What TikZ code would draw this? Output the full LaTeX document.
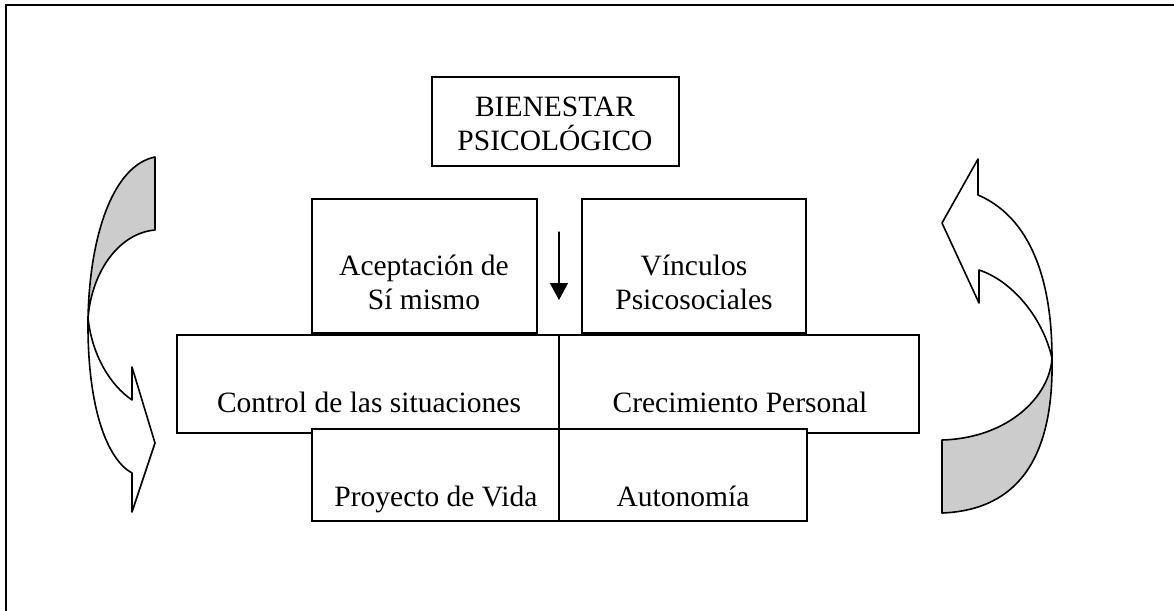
\documentclass[tikz,border=0pt]{standalone}
\usepackage{fontspec}
\setmainfont{Liberation Serif}
\usetikzlibrary{arrows.meta,fit}
\tikzset{
  caja/.style={draw, line width=0.75pt, inner sep=0pt},
  texto/.style={anchor=base, align=center, inner sep=0pt, font=\fontsize{14.75}{17}\selectfont},
  cinta/.style={draw, line width=0.8pt, line join=round}
}
\begin{document}
\begin{tikzpicture}[x=0.5pt, y=-0.5pt, line cap=round, >=stealth]
			\useasboundingbox (0,0) rectangle (1174,611);
			\draw[line width=0.9pt](6,611)--(6,5)--(1174,5);
			% cajas
			\node[caja, fit={(432,77) (679,166)}] (bien) {};
			\node[caja, fit={(312,199) (537,333)}] (acep) {};
			\node[caja, fit={(582,199) (806,333)}] (vinc) {};
			\node[caja, fit={(177,335) (559,433)}] (ctrl) {};
			\node[caja, fit={(559,335) (919,433)}] (crec) {};
			\node[caja, fill=white, fit={(312,429) (559,521)}] (proy) {};
			\node[caja, fill=white, fit={(559,429) (807,521)}] (auto) {};
			% textos (base = ultima linea)
			\node[texto] (tbien) at (555,150) {BIENESTAR\\PSICOLÓGICO};
			\node[texto] (tacep) at (424,309) {Aceptación de\\Sí mismo};
			\node[texto] (tvinc) at (694,309) {Vínculos\\Psicosociales};
			\node[texto] (tctrl) at (369,412) {Control de las situaciones};
			\node[texto] (tcrec) at (740,412) {Crecimiento Personal};
			\node[texto] (tproy) at (436,506) {Proyecto de Vida};
			\node[texto] (tauto) at (683,506) {Autonomía};
			% flecha central
			\coordinate (fA) at (559,232); \coordinate (fB) at (559,300);
			\draw[-{Triangle[width=9pt,length=8.5pt]}, line width=0.6pt](fA)--(fB);
			% cinta izquierda
			\filldraw[cinta, fill=black!20](155,157) .. controls (115,165) and (90,230) .. (88,318) .. controls (92,270) and (120,233) .. (155,230)--cycle;
			\filldraw[cinta, fill=white](88,318) .. controls (87,410) and (108,460) .. (132,473)--(132,512)--(155,443)--(132,367)--(132,400) .. controls (110,385) and (92,355) .. (88,318)--cycle;
			% cinta derecha
			\filldraw[cinta, fill=black!20](1052,358) .. controls (1054,455) and (1020,510) .. (942,513)--(942,440) .. controls (1010,438) and (1050,395) .. (1052,358)--cycle;
			\filldraw[cinta, fill=white](1052,358) .. controls (1052,270) and (1025,215) .. (978,195)--(978,159)--(942,223)--(979,303)--(979,270) .. controls (1010,280) and (1042,315) .. (1052,358)--cycle;
\end{tikzpicture}
\end{document}
